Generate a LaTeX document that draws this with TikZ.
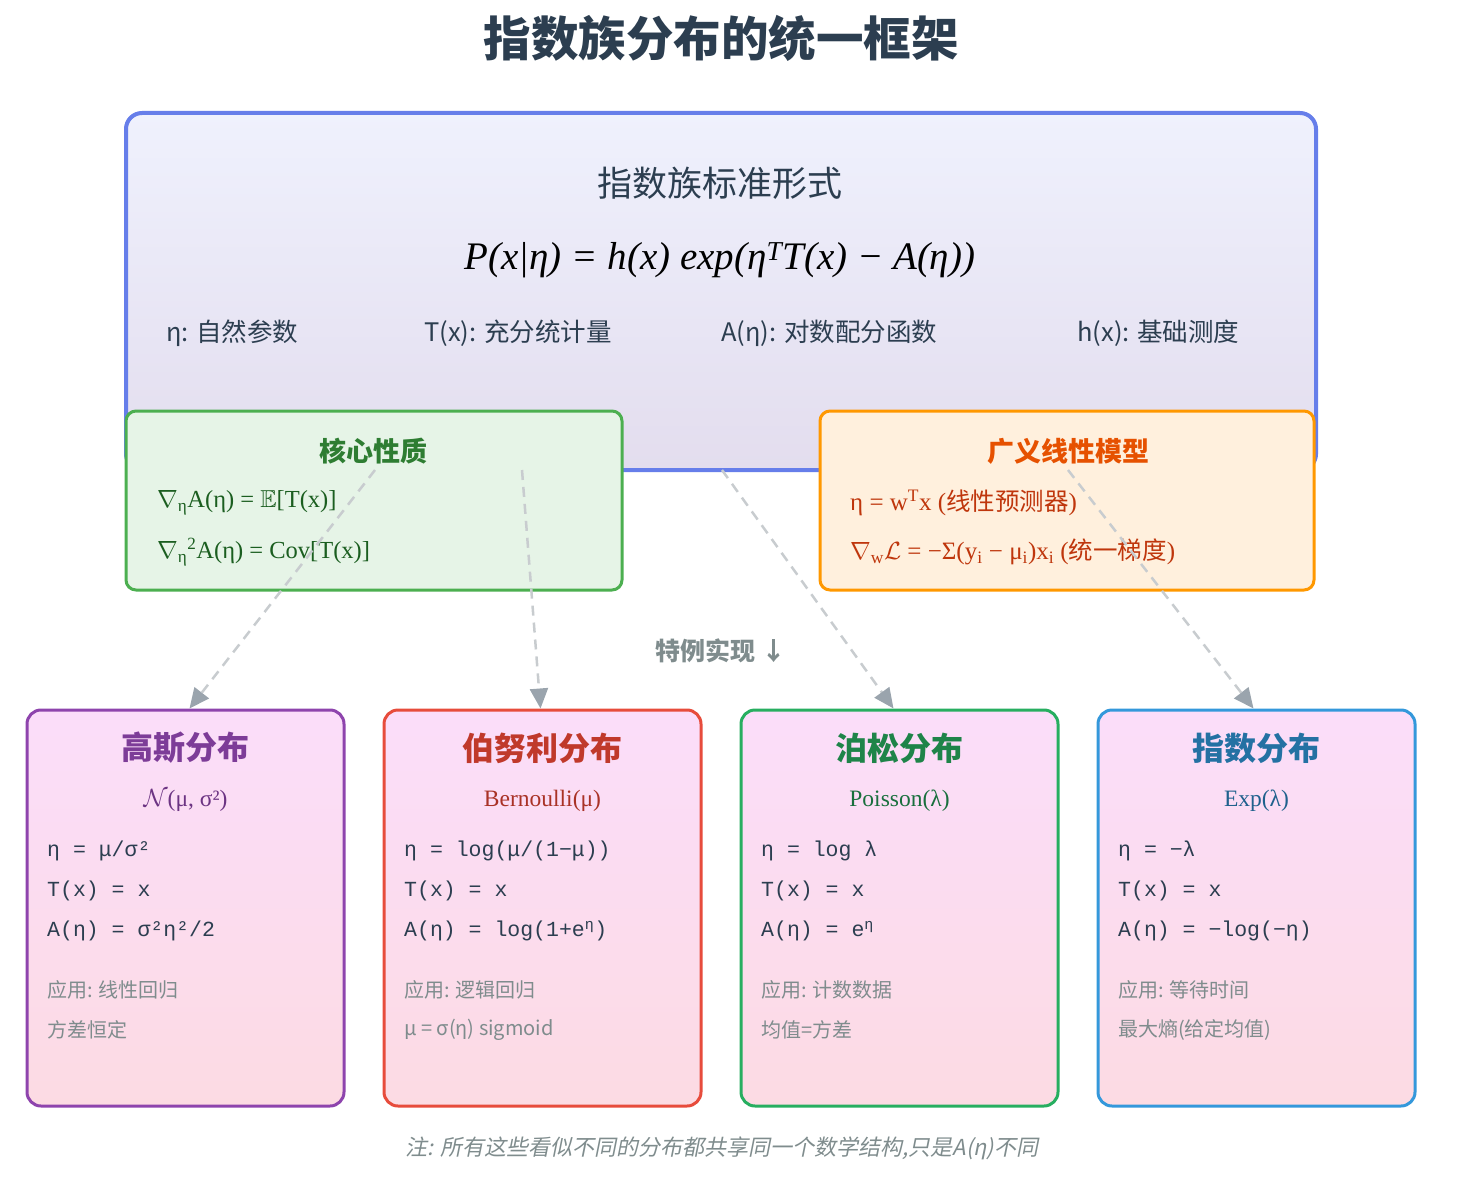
\documentclass[tikz,border=0pt]{standalone}
\usepackage{fontspec}
\usepackage{amssymb}
\usepackage{xcolor}
\usetikzlibrary{arrows.meta,positioning}
\setmainfont{Liberation Serif}
\newfontfamily\cjk{Noto Sans CJK SC}
\newfontfamily\cjkslant[FakeSlant=0.2]{Noto Sans CJK SC}
\newfontfamily\mono{Liberation Mono}
\definecolor{efdark}{HTML}{2C3E50}
\definecolor{efgray}{HTML}{7F8C8D}
\definecolor{efblue}{HTML}{667EEA}
\definecolor{eftop}{RGB}{239,241,253}
\definecolor{efbot}{RGB}{227,221,238}
\definecolor{efgreen}{HTML}{4CAF50}
\definecolor{efgreenfill}{HTML}{E6F4E7}
\definecolor{efgreentitle}{HTML}{2E7D32}
\definecolor{efgreentext}{HTML}{1B5E20}
\definecolor{eforange}{HTML}{FF9800}
\definecolor{eforangefill}{HTML}{FFF0DD}
\definecolor{eforangetitle}{HTML}{E65100}
\definecolor{eforangetext}{HTML}{BF360C}
\definecolor{cardtop}{RGB}{251,221,250}
\definecolor{cardbot}{RGB}{252,219,227}
\definecolor{linkgray}{RGB}{200,204,207}
\definecolor{tipgray}{RGB}{154,164,173}
\definecolor{gaussline}{HTML}{8E44AD}
\definecolor{gausstitle}{HTML}{7D3C98}
\definecolor{gausssub}{HTML}{6C3483}
\definecolor{bernline}{HTML}{E74C3C}
\definecolor{berntitle}{HTML}{C0392B}
\definecolor{bernsub}{HTML}{A93226}
\definecolor{poisline}{HTML}{27AE60}
\definecolor{poistitle}{HTML}{1E8449}
\definecolor{poissub}{HTML}{196F3D}
\definecolor{expoline}{HTML}{3498DB}
\definecolor{expotitle}{HTML}{2471A3}
\definecolor{exposub}{HTML}{1F618D}
\newcommand{\fs}[1]{\fontsize{#1}{#1}\selectfont}

\begin{document}
\begin{tikzpicture}[x=1pt,y=-1pt,
  every node/.style={inner sep=0pt},
  card/.style={line width=3pt, rounded corners=14pt, minimum width=317pt,
    minimum height=396pt, top color=cardtop, bottom color=cardbot},
  cardtitle/.style={font=\cjk\bfseries\fs{32}},
  cardsub/.style={font=\fs{23.5}},
  formline/.style={anchor=west, text=efdark, font=\mono\fs{21.5}},
  noteline/.style={anchor=west, text=efgray, font=\cjk\fs{20}},
  link/.style={draw=linkgray, line width=2.5pt, dash pattern=on 10pt off 7pt,
    -{Triangle[length=20pt,width=18pt,color=tipgray]}}]
\useasboundingbox (0,0) rectangle (1464,1182);

\node (title) [text=efdark, font=\cjk\bfseries\fs{47.5}] at (721,38) {指数族分布的统一框架};

\node (frame) [draw=efblue, line width=4pt, rounded corners=16pt, minimum width=1190pt,
  minimum height=357pt, top color=eftop, bottom color=efbot] at (721,291.5) {};
\node (frametitle) [text=efdark, font=\cjk\fs{35}] at (720,183) {指数族标准形式};
\node (formula) [text=black, font=\itshape\fs{39}] at (720,260)
  {P(x|η) = h(x) exp(η\textsuperscript{T}T(x) − A(η))};
\node (eta) [anchor=west, text=efdark, font=\cjk\fs{25.5}] at (166,333) {η: 自然参数};
\node (suff) [anchor=west, text=efdark, font=\cjk\fs{25.5}] at (424,333) {T(x): 充分统计量};
\node (logz) [anchor=west, text=efdark, font=\cjk\fs{25.5}] at (721,333) {A(η): 对数配分函数};
\node (base) [anchor=west, text=efdark, font=\cjk\fs{25.5}] at (1077,333) {h(x): 基础测度};

\node (core) [draw=efgreen, line width=3pt, rounded corners=10pt, minimum width=496pt,
  minimum height=179pt, fill=efgreenfill] at (374,500.5) {};
\node (coretitle) [text=efgreentitle, font=\cjk\bfseries\fs{27}] at (373,451) {核心性质};
\node (coremean) [anchor=west, text=efgreentext, font=\fs{24.5}] at (157,503)
  {$\nabla$\textsubscript{η}A(η) = $\mathbb{E}$[T(x)]};
\node (corevar) [anchor=west, text=efgreentext, font=\fs{24.5}] at (157,552)
  {$\nabla$\textsubscript{η}\textsuperscript{2}A(η) = Cov[T(x)]};

\node (glm) [draw=eforange, line width=3pt, rounded corners=10pt, minimum width=494pt,
  minimum height=179pt, fill=eforangefill] at (1067,500.5) {};
\node (glmtitle) [text=eforangetitle, font=\cjk\bfseries\fs{27}] at (1068,451) {广义线性模型};
\node (glmpred) [anchor=west, text=eforangetext, font=\fs{25}] at (850,503)
  {η = w\textsuperscript{T}x ({\cjk\fs{24.5}线性预测器})};
\node (glmgrad) [anchor=west, text=eforangetext, font=\fs{25}] at (850,552)
  {$\nabla$\textsubscript{w}$\mathcal{L}$ = −Σ(y\textsubscript{i} − μ\textsubscript{i})x\textsubscript{i} ({\cjk\fs{24.5}统一梯度})};

\node (special) [text=efgray, font=\cjk\bfseries\fs{25}] at (721,651) {特例实现 ↓};

\node (gauss) [card, draw=gaussline] at (185.5,908) {};
\node (gausst) [cardtitle, text=gausstitle] at (185.5,748) {高斯分布};
\node (gausss) [cardsub, text=gausssub] at (185.5,801) {$\mathcal{N}$(μ, σ²)};
\node (gauss1) [formline] at (47,851) {η = μ/σ²};
\node (gauss2) [formline] at (47,891) {T(x) = x};
\node (gauss3) [formline] at (47,931) {A(η) = σ²η²/2};
\node (gauss4) [noteline] at (47,990) {应用: 线性回归};
\node (gauss5) [noteline] at (47,1030) {方差恒定};

\node (bern) [card, draw=bernline] at (542.5,908) {};
\node (bernt) [cardtitle, text=berntitle] at (542.5,748) {伯努利分布};
\node (berns) [cardsub, text=bernsub] at (542.5,801) {Bernoulli(μ)};
\node (bern1) [formline] at (404,851) {η = log(μ/(1−μ))};
\node (bern2) [formline] at (404,891) {T(x) = x};
\node (bern3) [formline] at (404,931) {A(η) = log(1+e\textsuperscript{η})};
\node (bern4) [noteline] at (404,990) {应用: 逻辑回归};
\node (bern5) [noteline] at (404,1030) {μ = σ(η) sigmoid};

\node (pois) [card, draw=poisline] at (899.5,908) {};
\node (poist) [cardtitle, text=poistitle] at (899.5,748) {泊松分布};
\node (poiss) [cardsub, text=poissub] at (899.5,801) {Poisson(λ)};
\node (pois1) [formline] at (761,851) {η = log λ};
\node (pois2) [formline] at (761,891) {T(x) = x};
\node (pois3) [formline] at (761,931) {A(η) = e\textsuperscript{η}};
\node (pois4) [noteline] at (761,990) {应用: 计数数据};
\node (pois5) [noteline] at (761,1030) {均值=方差};

\node (expo) [card, draw=expoline] at (1256.5,908) {};
\node (expot) [cardtitle, text=expotitle] at (1256.5,748) {指数分布};
\node (expos) [cardsub, text=exposub] at (1256.5,801) {Exp(λ)};
\node (expo1) [formline] at (1118,851) {η = −λ};
\node (expo2) [formline] at (1118,891) {T(x) = x};
\node (expo3) [formline] at (1118,931) {A(η) = −log(−η)};
\node (expo4) [noteline] at (1118,990) {应用: 等待时间};
\node (expo5) [noteline] at (1118,1030) {最大熵(给定均值)};

\coordinate (out1) at (375,470);
\coordinate (out2) at (522,470);
\coordinate (out3) at (722,470);
\coordinate (out4) at (1068,470);
\draw[link] (out1) -- ([xshift=4pt]gauss.north);
\draw[link] (out2) -- ([xshift=-2pt]bern.north);
\draw[link] (out3) -- ([xshift=-6pt]pois.north);
\draw[link] (out4) -- ([xshift=-3pt]expo.north);

\node (footnote) [text=efgray, font=\cjkslant\fs{22}] at (722,1148)
  {注: 所有这些看似不同的分布都共享同一个数学结构,只是A(η)不同};
\end{tikzpicture}
\end{document}
